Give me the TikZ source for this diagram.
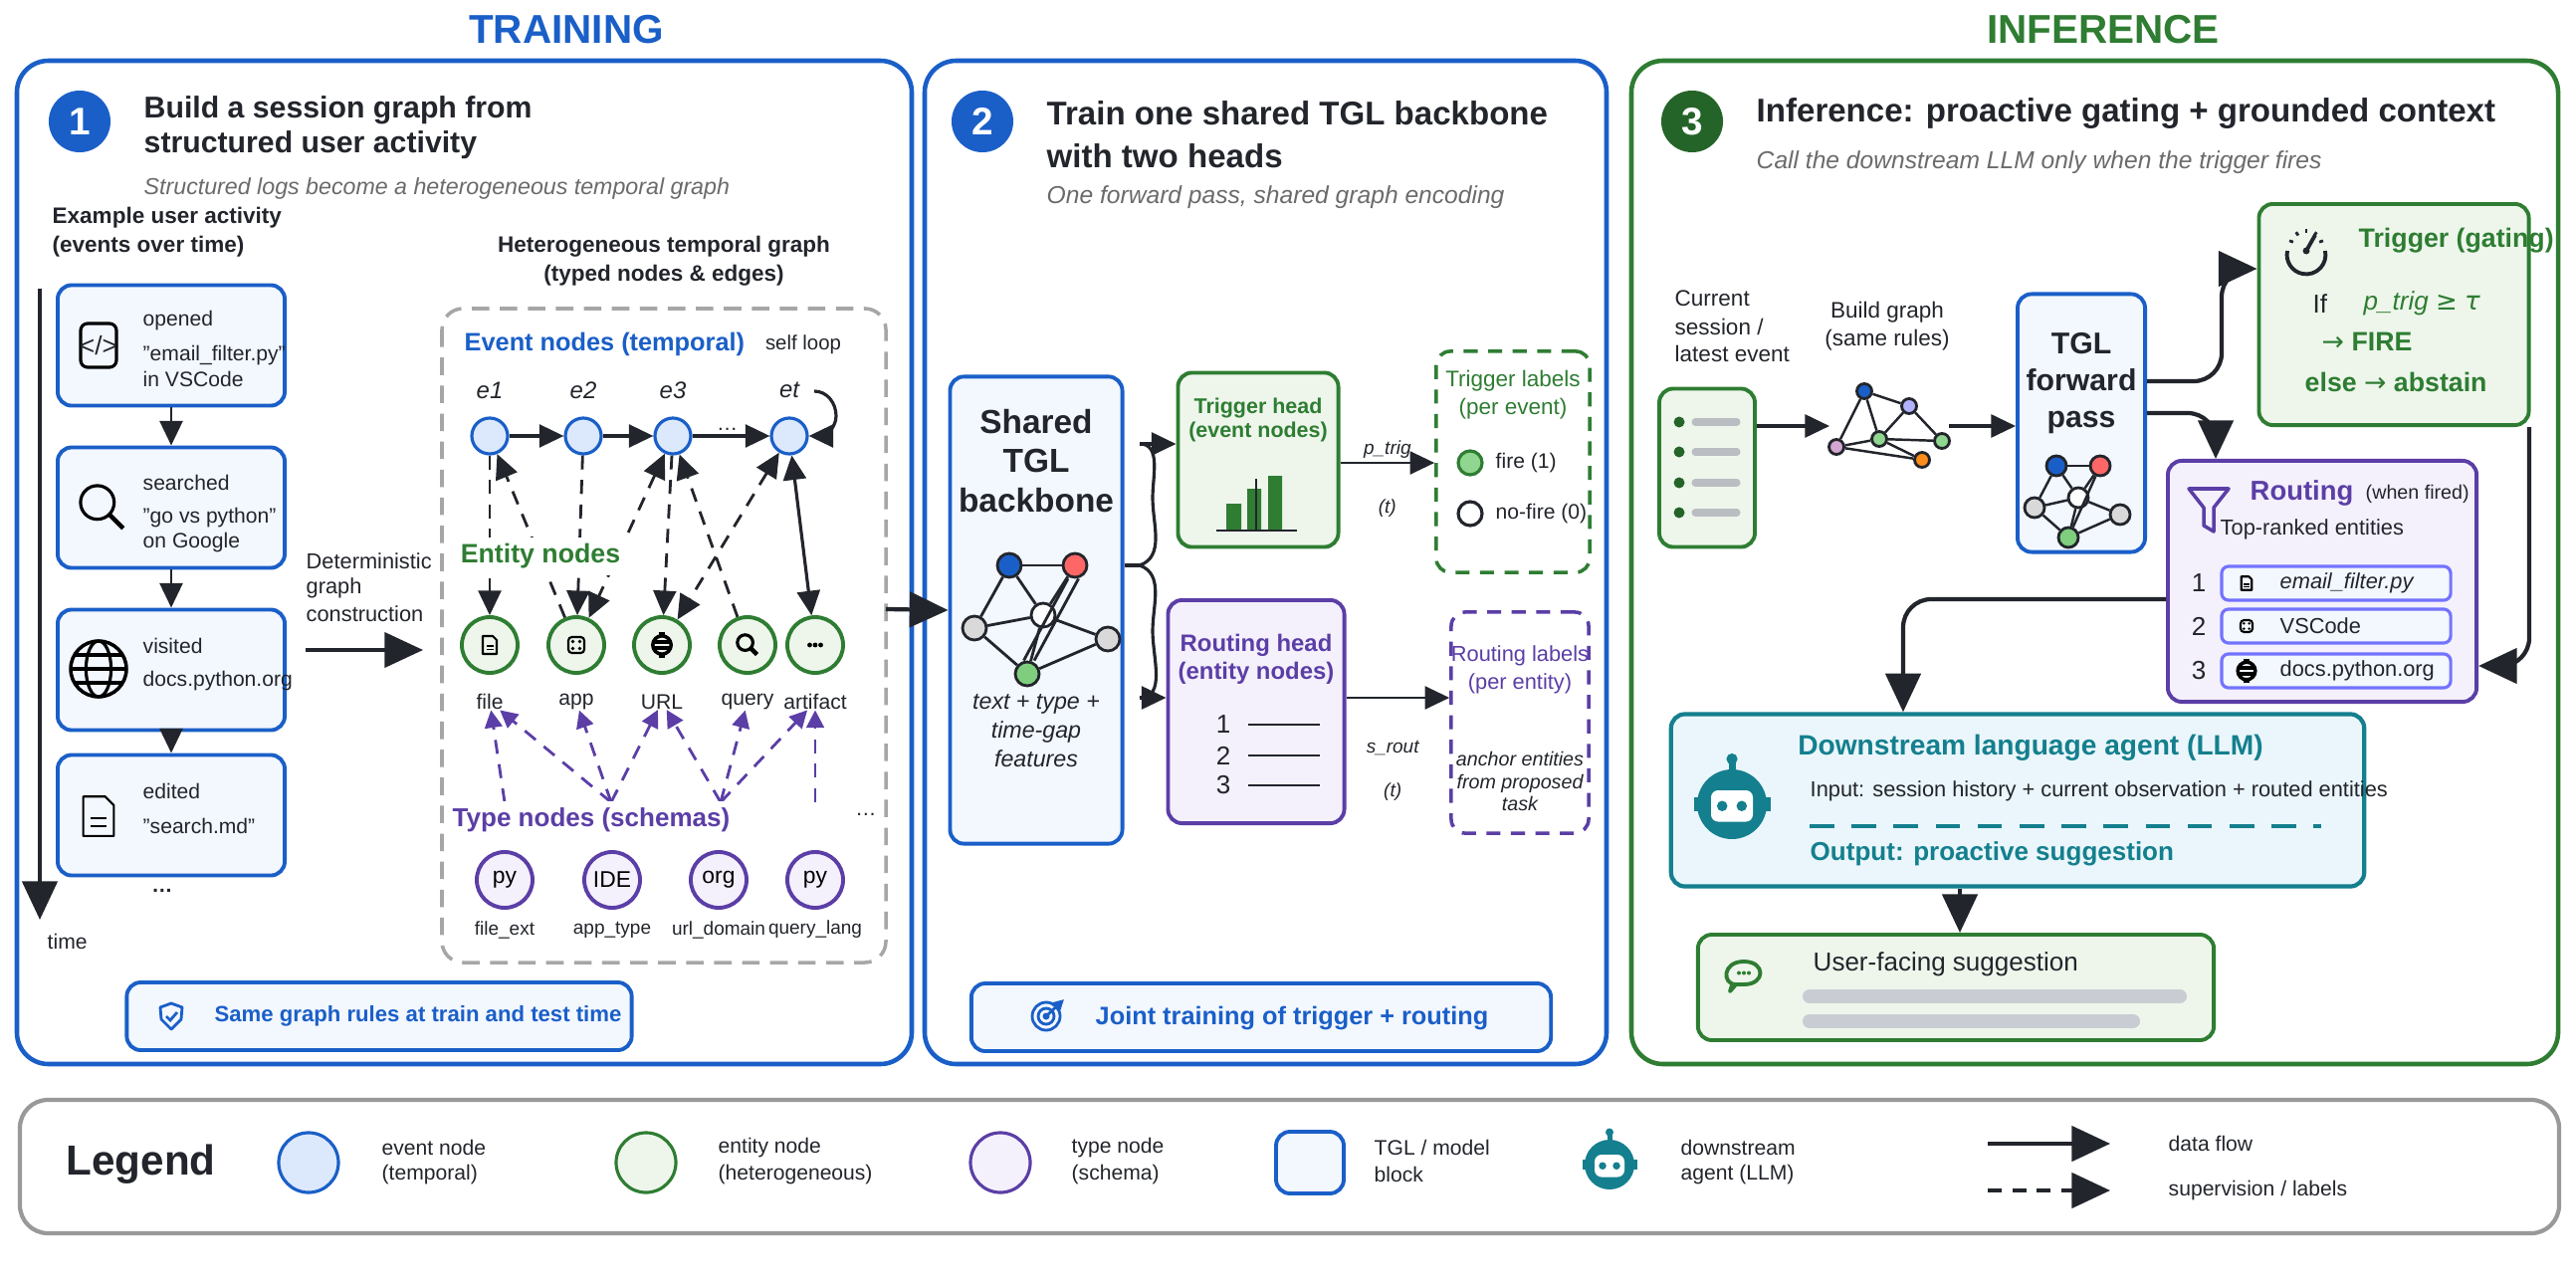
\documentclass[tikz,border=0pt]{standalone}
\usepackage{fontspec}
\setmainfont{Liberation Sans}
\newfontfamily\symf{DejaVu Sans}
\usetikzlibrary{arrows.meta, positioning, calc}

\definecolor{tblue}{HTML}{1A5FC8}
\definecolor{evfill}{HTML}{DCE8FB}
\definecolor{boxfill}{HTML}{F3F7FE}
\definecolor{egreen}{HTML}{2E7D32}
\definecolor{gfill}{HTML}{EEF6EC}
\definecolor{tpurple}{HTML}{5B3EA6}
\definecolor{pfill}{HTML}{F4F0FC}
\definecolor{teal}{HTML}{147F8E}
\definecolor{tealfill}{HTML}{EAF6FB}
\definecolor{ink}{HTML}{22252B}
\definecolor{subgrey}{HTML}{6B6B6B}
\definecolor{barg}{HTML}{C9CDD3}

\newcommand\fs[2]{\fontsize{#1}{#2}\selectfont}

\tikzset{
    headarrow/.style = {-{Triangle[length=7pt, width=6.5pt]}},
    bigarrow/.style  = {-{Triangle[length=11pt, width=10pt]}},
    flow/.style      = {headarrow, draw=ink, line width=0.9pt},
    sup/.style       = {headarrow, draw=ink, line width=0.8pt, dash pattern=on 4pt off 3pt},
    tsup/.style      = {-{Triangle[length=5pt, width=5pt]}, draw=tpurple, line width=0.8pt, dash pattern=on 4pt off 3pt},
    panel/.style     = {rounded corners=9pt, line width=1.3pt, fill=white},
    numc/.style      = {circle, minimum size=0.62cm, inner sep=0, text=white, font=\bfseries\fs{11}{11}},
    ttl/.style       = {anchor=west, inner sep=0, font=\bfseries\fs{8.6}{10}, text=ink},
    subt/.style      = {anchor=west, inner sep=0, font=\itshape\fs{6.6}{8}, text=subgrey},
    txt/.style       = {inner sep=0, font=\fs{6}{7.5}, text=ink},
    ltxt/.style      = {txt, anchor=west},
    evbox/.style     = {draw=tblue, fill=boxfill, line width=1.1pt, rounded corners=4pt,
                        minimum width=2.28cm, minimum height=1.21cm},
    evnode/.style    = {circle, draw=tblue, fill=evfill, line width=0.9pt, minimum size=0.36cm, inner sep=0},
    ennode/.style    = {circle, draw=egreen, fill=gfill, line width=1.1pt, minimum size=0.56cm, inner sep=0},
    tpnode/.style    = {circle, draw=tpurple, fill=pfill, line width=1.1pt, minimum size=0.56cm, inner sep=0,
                        font=\fs{6.5}{7}},
    gnode/.style     = {circle, draw=ink, line width=0.8pt, minimum size=#1, inner sep=0},
    gnode/.default   = 0.24cm,
    footbox/.style   = {draw=tblue, fill=boxfill, line width=1.1pt, rounded corners=4pt},
}

% small icons, drawn around (x,y) with a scale
\newcommand\icdoc[3]{\begin{scope}[shift={(#1,#2)}, scale=#3, line join=round]
    \draw[line width=0.6pt] (-7,-9) -- (3,-9) -- (7,-5) -- (7,9) -- (-7,9) -- cycle;
    \draw[line width=0.5pt] (-3.5,1) -- (3.5,1) (-3.5,4.5) -- (3.5,4.5);
\end{scope}}
\newcommand\icapp[3]{\begin{scope}[shift={(#1,#2)}, scale=#3]
    \draw[line width=0.6pt, rounded corners=1pt] (-8,-8) rectangle (8,8);
    \foreach \dx/\dy in {-3.5/-3.5, 3.5/-3.5, -3.5/3.5, 3.5/3.5}
        \fill (\dx,\dy) circle (1.8);
\end{scope}}
\newcommand\icurl[3]{\begin{scope}[shift={(#1,#2)}, scale=#3]
    \draw[line width=1pt] (0,0) circle (8);
    \draw[line width=1pt] (-8,-2.5) -- (8,-2.5) (-8,2.5) -- (8,2.5);
    \draw[line width=0.8pt] (-3,-10) -- (3,-10) (-3,10) -- (3,10);
\end{scope}}
\newcommand\icmag[3]{\begin{scope}[shift={(#1,#2)}, scale=#3]
    \draw[line width=0.9pt] (-2,-2) circle (6.5);
    \draw[line width=1.3pt] (2.8,2.8) -- (8,8);
\end{scope}}
\newcommand\icdots[3]{\begin{scope}[shift={(#1,#2)}, scale=#3]
    \foreach \dx in {-5,0,5} \fill (\dx,0) circle (2.2);
\end{scope}}
\newcommand\icglobe[3]{\begin{scope}[shift={(#1,#2)}, scale=#3]
    \draw[line width=1pt] (0,0) circle (10);
    \draw[line width=0.9pt] (0,0) ellipse (4.5 and 10);
    \draw[line width=0.9pt] (-10,0) -- (10,0) (-8.5,-5) -- (8.5,-5) (-8.5,5) -- (8.5,5);
\end{scope}}
\newcommand\icrobot[3]{\begin{scope}[shift={(#1,#2)}, scale=#3]
    \fill[teal] (0,0) circle (10);
    \fill[teal] (-11,-2) rectangle (11,2);
    \fill[teal] (-1,-13) rectangle (1,-9);
    \fill[teal] (0,-13) circle (1.6);
    \fill[white, rounded corners=2pt] (-6,-4) rectangle (6,5);
    \fill[teal] (-2.8,0.5) circle (1.5) (2.8,0.5) circle (1.5);
\end{scope}}

\begin{document}
\begin{tikzpicture}[x=0.01cm, y=-0.01cm]
    \useasboundingbox (0,0) rectangle (2588,1294);

    \node[font=\bfseries\fs{11.5}{12}, text=tblue] (trn) at (569,30) {TRAINING};
    \node[font=\bfseries\fs{11.5}{12}, text=egreen] (inf) at (2113,30) {INFERENCE};

    % ---------- panel 1
    \draw[panel, draw=tblue] (17,61) rectangle (916,1069);
    \node[numc, fill=tblue] (n1) at (80,122) {1};
    \node[ttl] (t1a) at (144,111) {Build a session graph from};
    \node[ttl] (t1b) at (144,146) {structured user activity};
    \node[subt] (s1) at (144,189) {Structured logs become a heterogeneous temporal graph};
    \node[ltxt, font=\bfseries\fs{6.4}{7.5}] (ex1) at (52,219) {Example user activity};
    \node[ltxt, font=\bfseries\fs{6.4}{7.5}] (ex2) at (52,248) {(events over time)};

    \coordinate (tA) at (40,290);
    \coordinate (tB) at (40,924);
    \draw[bigarrow, draw=ink, line width=1.2pt] (tA) -- (tB);
    \node[ltxt] (time) at (47,946) {time};

    \node[evbox] (b1) at (172,347) {};
    \node[evbox] (b2) at (172,510) {};
    \node[evbox] (b3) at (172,673) {};
    \node[evbox] (b4) at (172,819) {};
    \draw[flow, line width=0.8pt] (b1) -- (b2);
    \draw[flow, line width=0.8pt] (b2) -- (b3);
    \draw[flow, line width=0.8pt] (b3) -- (b4);
    \node[txt] (more) at (163,895) {\bfseries\dots};

    \draw[line width=0.9pt, rounded corners=2pt] (81,325) rectangle (117,369);
    \node[txt, font=\fs{7.5}{7.5}] (code) at (99,347) {</>};
    \node[ltxt] at (143,322) {opened};
    \node[ltxt] at (143,357) {"email\_filter.py"};
    \node[ltxt] at (143,381) {in VSCode};
    \icmag{103}{510}{2.6}
    \node[ltxt] at (143,485) {searched};
    \node[ltxt] at (143,520) {"go vs python"};
    \node[ltxt] at (143,545) {on Google};
    \icglobe{99}{672}{2.8}
    \node[ltxt] at (143,649) {visited};
    \node[ltxt] at (143,684) {docs.python.org};
    \icdoc{99}{820}{2.2}
    \node[ltxt] at (143,795) {edited};
    \node[ltxt] at (143,830) {"search.md"};

    \node[ltxt, font=\fs{6.2}{8}] (det1) at (307,564) {Deterministic};
    \node[ltxt, font=\fs{6.2}{8}] (det2) at (307,591) {graph};
    \node[ltxt, font=\fs{6.2}{8}] (det3) at (307,617) {construction};
    \coordinate (dA) at (307,653);
    \coordinate (dB) at (425,653);
    \draw[bigarrow, draw=ink, line width=1pt] (dA) -- (dB);

    \draw[draw=gray!70, line width=1pt, dash pattern=on 5pt off 3pt, rounded corners=6pt] (444,310) rectangle (890,967);
    \node[txt, font=\bfseries\fs{6.4}{7.5}] at (667,248) {Heterogeneous temporal graph};
    \node[txt, font=\bfseries\fs{6.4}{7.5}] at (667,277) {(typed nodes \& edges)};
    \node[ltxt, font=\bfseries\fs{7.2}{8}, text=tblue] at (466,346) {Event nodes (temporal)};
    \node[txt, font=\fs{5.8}{7}] at (807,346) {self loop};

    \foreach \n/\x in {1/492, 2/586, 3/676, t/793} {
        \node[evnode] (e\n) at (\x,438) {};
        \node[txt, font=\itshape\fs{6.8}{8}] at (\x,392) {e\n};
    }
    \draw[flow] (e1) -- (e2);
    \draw[flow] (e2) -- (e3);
    \draw[flow] (e3) -- node[pos=0.45, txt, yshift=2pt] {\dots} (et);
    \coordinate (slp) at (818,393);
    \draw[flow] (slp) to[out=0, in=90] (840,418) to[out=-90, in=0] (et.east);

    \foreach \n/\x/\lab in {file/492/file, app/579/app, url/665/URL, qry/751/query, art/819/artifact} {
        \node[ennode] (\n) at (\x,648) {};
        \node[txt, font=\fs{6}{7}] (\n L) at (\x,705) {\lab};
    }
    \icdoc{492}{648}{1.0}
    \icapp{579}{648}{1.0}
    \icurl{665}{648}{1.15}
    \icmag{751}{648}{1.2}
    \icdots{819}{648}{1.1}

    \draw[sup] (e1) -- (file);
    \draw[sup] (app) -- (e1);
    \draw[sup] (e2) -- (app);
    \draw[sup, {Triangle[length=7pt, width=6.5pt]}-{Triangle[length=7pt, width=6.5pt]}] (e3) -- (app);
    \draw[sup] (e3) -- (url);
    \draw[sup] (qry) -- (e3);
    \draw[sup, {Triangle[length=7pt, width=6.5pt]}-{Triangle[length=7pt, width=6.5pt]}] (et) -- (url);
    \draw[flow, {Triangle[length=7pt, width=6.5pt]}-{Triangle[length=7pt, width=6.5pt]}] (et) -- (art);
    \node[txt, fill=white, inner sep=2pt, font=\bfseries\fs{7.6}{8}, text=egreen] (entl) at (543,559) {Entity nodes};

    \coordinate (tp1) at (507,806);
    \coordinate (tp2) at (614,806);
    \coordinate (tp3) at (724,806);
    \coordinate (tp4) at (819,806);
    \draw[tsup] (tp1) -- (fileL);
    \draw[tsup] (tp2) -- (fileL);
    \draw[tsup] (tp2) -- (appL);
    \draw[tsup] (tp2) -- (urlL);
    \draw[tsup] (tp3) -- (urlL);
    \draw[tsup] (tp3) -- (qryL);
    \draw[tsup] (tp3) -- (artL);
    \draw[tsup] (tp4) -- (artL);
    \node[txt, fill=white, inner sep=2pt, font=\bfseries\fs{7.4}{8}, text=tpurple] (tpl) at (594,824) {Type nodes (schemas)};

    \foreach \n/\x/\lab/\sch in {a/507/py/file\_ext, b/615/IDE/app\_type, c/722/org/url\_domain, d/819/py/query\_lang} {
        \node[tpnode] (ty\n) at (\x,884) {\lab};
        \node[txt, font=\fs{5.4}{7}] at (\x,934) {\sch};
    }
    \node[txt] at (870,818) {\dots};

    \node[footbox, minimum width=5.07cm, minimum height=0.68cm] (f1) at (381,1021) {};
    \begin{scope}[shift={(172,1021)}]
        \draw[tblue, line width=0.8pt, line join=round] (0,-13) -- (11,-9) -- (10,3) -- (0,13) -- (-10,3) -- (-11,-9) -- cycle;
        \draw[tblue, line width=0.8pt] (-5,0) -- (-1,4) -- (6,-4);
    \end{scope}
    \node[txt, font=\bfseries\fs{6.3}{8}, text=tblue] at (420,1021) {Same graph rules at train and test time};

    % ---------- panel 2
    \draw[panel, draw=tblue] (929,61) rectangle (1614,1069);
    \node[numc, fill=tblue] (n2) at (987,122) {2};
    \node[ttl, font=\bfseries\fs{9.4}{10}] at (1051,114) {Train one shared TGL backbone};
    \node[ttl, font=\bfseries\fs{9.4}{10}] at (1051,157) {with two heads};
    \node[subt, font=\itshape\fs{7}{8}] at (1051,198) {One forward pass, shared graph encoding};

    \node[evbox, minimum width=1.73cm, minimum height=4.69cm] (bb) at (1041,613) {};
    \node[txt, align=center, font=\bfseries\fs{9.5}{11.3}] at (1041,463) {Shared\\TGL\\backbone};
    \draw[bigarrow, draw=ink, line width=1.2pt] (890,612) -- (bb.west);

    \node[gnode, fill=tblue] (g1) at (1014,568) {};
    \node[gnode, fill=red!60] (g2) at (1080,568) {};
    \node[gnode, fill=white] (g3) at (1048,618) {};
    \node[gnode, fill=gray!30] (g4) at (979,631) {};
    \node[gnode, fill=gray!30] (g5) at (1113,642) {};
    \node[gnode, fill=green!45!gray!70] (g6) at (1032,677) {};
    \foreach \a/\b in {g1/g2, g1/g3, g1/g4, g2/g3, g3/g4, g4/g6, g3/g6, g3/g5, g5/g6}
        \draw[ink, line width=0.8pt] (\a) -- (\b);
    \draw[ink, line width=0.8pt] ([xshift=-2pt]g2.south) -- ([xshift=-1pt]g6.north);
    \draw[ink, line width=0.8pt] ([xshift=1pt]g2.south) -- ([xshift=2pt]g6.north);
    \node[txt, align=center, font=\itshape\fs{6.6}{8.2}] at (1041,734) {text + type +\\time-gap\\features};

    \node[draw=egreen, fill=gfill, line width=1.1pt, rounded corners=4pt, minimum width=1.61cm, minimum height=1.75cm] (trh) at (1264,462) {};
    \node[txt, align=center, font=\bfseries\fs{6.1}{7}, text=egreen] at (1264,422) {Trigger head\\(event nodes)};
    \fill[egreen] (1232,506) rectangle (1247,533) (1253,491) rectangle (1267,533) (1274,478) rectangle (1288,533);
    \draw[ink, line width=0.8pt] (1222,533) -- (1303,533) (1262,481) -- (1262,533);

    \node[draw=tpurple, fill=pfill, line width=1.1pt, rounded corners=4pt, minimum width=1.77cm, minimum height=2.24cm] (rth) at (1262,715) {};
    \node[txt, align=center, font=\bfseries\fs{6.8}{8}, text=tpurple] at (1262,662) {Routing head\\(entity nodes)};
    \foreach \i/\y in {1/728, 2/759, 3/789} {
        \node[txt, font=\fs{7.4}{8}] at (1229,\y) {\i};
        \draw[ink, line width=0.8pt] (1254,\y) -- (1326,\y);
    }

    \coordinate (brc) at (1145,568);
    \coordinate (brt) at (1145,446);
    \coordinate (brb) at (1145,701);
    \draw[ink, line width=0.9pt] (bb.east |- brc) -- (brc);
    \draw[ink, line width=0.9pt] (brt) to[out=0, in=90] (1158,500) to[out=-90, in=20] (brc)
        to[out=-20, in=90] (1158,634) to[out=-90, in=0] (brb);
    \draw[flow] (brt) -- (trh.west |- brt);
    \draw[flow] (brb) -- (rth.west |- brb);

    \node[draw=egreen, line width=1pt, dash pattern=on 4pt off 3pt, rounded corners=4pt, minimum width=1.54cm, minimum height=2.22cm] (tlab) at (1520,464) {};
    \node[txt, align=center, font=\fs{6.4}{8}, text=egreen] at (1520,397) {Trigger labels\\(per event)};
    \node[circle, draw=egreen, fill=green!45!gray!60, line width=0.9pt, minimum size=0.24cm, inner sep=0] (fire) at (1477,465) {};
    \node[ltxt] at (1502,465) {fire (1)};
    \node[circle, draw=ink, fill=white, line width=0.9pt, minimum size=0.24cm, inner sep=0] (nofire) at (1477,516) {};
    \node[ltxt] at (1502,516) {no-fire (0)};
    \draw[flow, line width=0.8pt] (trh.east |- fire) -- node[pos=0.5, above=1pt, txt, font=\itshape\fs{5.4}{6}] {p\_trig}
        node[pos=0.5, below=10pt, txt, font=\itshape\fs{5.4}{6}] {(t)} (tlab.west |- fire);

    \node[draw=tpurple, line width=1pt, dash pattern=on 4pt off 3pt, rounded corners=4pt, minimum width=1.38cm, minimum height=2.22cm] (rlab) at (1527,726) {};
    \node[txt, align=center, font=\fs{6.2}{8}, text=tpurple] at (1527,673) {Routing labels\\(per entity)};
    \node[txt, align=center, font=\itshape\fs{5.6}{6.4}] at (1527,785) {anchor entities\\from proposed\\task};
    \draw[flow, line width=0.8pt] (rth.east |- brb) -- node[pos=0.45, below=12pt, txt, font=\itshape\fs{5.4}{6}] {s\_rout}
        node[pos=0.45, below=24pt, txt, font=\itshape\fs{5.4}{6}] {(t)} (rlab.west |- brb);

    \node[footbox, minimum width=5.82cm, minimum height=0.68cm] (f2) at (1267,1022) {};
    \begin{scope}[shift={(1051,1021)}]
        \draw[tblue, line width=0.8pt] (0,0) circle (14) (0,0) circle (8);
        \fill[tblue] (0,0) circle (3.5);
        \draw[tblue, line width=0.8pt, -{Triangle[length=3pt, width=3pt]}] (0,0) -- (18,-17);
    \end{scope}
    \node[txt, font=\bfseries\fs{7.2}{8}, text=tblue] at (1298,1023) {Joint training of trigger + routing};

    % ---------- panel 3
    \draw[panel, draw=egreen] (1639,61) rectangle (2570,1069);
    \node[numc, fill=egreen!80!black] (n3) at (1700,122) {3};
    \node[ttl, font=\bfseries\fs{9.4}{10}] at (1764,114) {Inference: proactive gating + grounded context};
    \node[subt, font=\itshape\fs{7}{8}] at (1764,163) {Call the downstream LLM only when the trigger fires};

    \node[ltxt, font=\fs{6.4}{7}] at (1682,300) {Current};
    \node[ltxt, font=\fs{6.4}{7}] at (1682,328) {session /};
    \node[ltxt, font=\fs{6.4}{7}] at (1682,355) {latest event};
    \node[draw=egreen, fill=gfill, line width=1.1pt, rounded corners=4pt, minimum width=0.96cm, minimum height=1.59cm] (lst) at (1715,470) {};
    \foreach \y in {424, 454, 485, 515} {
        \fill[egreen!80!black] (1687,\y) circle (5.5);
        \draw[barg!80!gray, line width=2pt, line cap=round] (1703,\y) -- (1745,\y);
    }
    \node[txt, align=center, font=\fs{6.4}{8}] at (1896,328) {Build graph\\(same rules)};
    \node[gnode=0.15cm, fill=tblue] (s1) at (1873,393) {};
    \node[gnode=0.15cm, fill=blue!30] (s2) at (1918,408) {};
    \node[gnode=0.15cm, fill=violet!35] (s3) at (1845,449) {};
    \node[gnode=0.15cm, fill=green!45!gray!60] (s4) at (1888,441) {};
    \node[gnode=0.15cm, fill=green!45!gray!60] (s5) at (1951,443) {};
    \node[gnode=0.15cm, fill=orange!90] (s6) at (1931,462) {};
    \foreach \a/\b in {s1/s2, s1/s3, s1/s4, s2/s4, s2/s5, s3/s4, s3/s6, s4/s5, s4/s6}
        \draw[ink, line width=0.7pt] (\a) -- (\b);
    \coordinate (sgA) at (1838,428);
    \coordinate (sgB) at (1958,428);
    \draw[flow] (lst.east |- sgA) -- (sgA);

    \node[evbox, minimum width=1.28cm, minimum height=2.59cm] (tgl) at (2091,425) {};
    \node[txt, align=center, font=\bfseries\fs{8.6}{10.5}] at (2091,385) {TGL\\forward\\pass};
    \draw[flow] (sgB) -- (tgl.west |- sgB);
    \node[gnode=0.2cm, fill=tblue] (h1) at (2066,468) {};
    \node[gnode=0.2cm, fill=red!60] (h2) at (2110,468) {};
    \node[gnode=0.2cm, fill=white] (h3) at (2088,500) {};
    \node[gnode=0.2cm, fill=gray!30] (h4) at (2044,510) {};
    \node[gnode=0.2cm, fill=gray!30] (h5) at (2130,517) {};
    \node[gnode=0.2cm, fill=green!45!gray!70] (h6) at (2078,540) {};
    \foreach \a/\b in {h1/h2, h1/h3, h1/h4, h2/h3, h2/h6, h3/h4, h4/h6, h3/h6, h3/h5, h5/h6}
        \draw[ink, line width=0.7pt] (\a) -- (\b);

    \node[draw=egreen, fill=gfill, line width=1.1pt, rounded corners=4pt, minimum width=2.71cm, minimum height=2.22cm] (trg) at (2405,316) {};
    \begin{scope}[shift={(2317,248)}]
        \draw[ink, line width=1.1pt] (-19,4) arc (192:-12:19.4);
        \foreach \a in {160,125,90,55,20} \draw[ink, line width=0.8pt] (\a:-14) -- (\a:-18);
        \fill[ink] (0,4) circle (3.5);
        \draw[ink, line width=1.1pt] (0,4) -- (9,-12);
    \end{scope}
    \node[ltxt, font=\bfseries\fs{7.6}{8}, text=egreen] at (2369,242) {Trigger (gating)};
    \node[ltxt, font=\fs{7.4}{8}] at (2323,305) {If};
    \node[ltxt, font=\itshape\fs{7.4}{8}, text=egreen] at (2374,305) {p\_trig {\symf\upshape ≥} {\symf τ}};
    \node[ltxt, font=\bfseries\fs{7.6}{8}, text=egreen] at (2332,343) {{\symf\mdseries →} FIRE};
    \node[ltxt, font=\bfseries\fs{7.6}{8}, text=egreen] at (2315,384) {else {\symf\mdseries →} abstain};
    \coordinate (tgA) at (2232,383);
    \draw[bigarrow, draw=ink, line width=1.2pt, rounded corners=8pt] (tgl.east |- tgA) -- (tgA) -- (2232,270) -- (trg.west |- 0,270);

    \node[draw=tpurple, fill=pfill, line width=1.1pt, rounded corners=4pt, minimum width=3.1cm, minimum height=2.42cm] (rtg) at (2333,584) {};
    \coordinate (rtA) at (2226,415);
    \draw[bigarrow, draw=ink, line width=1.2pt, rounded corners=8pt] (tgl.east |- rtA) -- (rtA) -- (rtg.north -| rtA);
    \draw[tpurple, line width=1pt, line join=round] (2199,491) -- (2239,491) -- (2224,510) -- (2224,534) -- (2214,528) -- (2214,510) -- cycle;
    \node[ltxt, font=\bfseries\fs{7.8}{9}, text=tpurple] at (2260,495) {Routing};
    \node[ltxt, font=\fs{5.6}{7}] at (2376,496) {(when fired)};
    \node[ltxt, font=\fs{6.2}{7}] at (2230,532) {Top-ranked entities};
    \foreach \i/\y/\lab in {1/586/{\itshape email\_filter.py}, 2/629/VSCode, 3/674/docs.python.org} {
        \node[txt, font=\fs{7.4}{8}] at (2209,\y) {\i};
        \node[draw=blue!55, fill=boxfill, line width=0.9pt, rounded corners=2pt, minimum width=2.3cm, minimum height=0.34cm] (it\i) at (2347,\y) {};
        \node[ltxt, font=\fs{6.2}{7}] at (2290,\y) {\lab};
    }
    \icdoc{2257}{586}{0.75}
    \icapp{2257}{629}{0.75}
    \icurl{2257}{674}{1.1}
    \coordinate (trC) at (2541,669);
    \draw[bigarrow, draw=ink, line width=1.2pt, rounded corners=8pt] (trg.south east -| trC) -- (trC) -- (rtg.east |- trC);

    \node[draw=teal, fill=tealfill, line width=1.2pt, rounded corners=4pt, minimum width=6.96cm, minimum height=1.73cm] (llm) at (2027,804) {};
    \coordinate (rlA) at (1912,602);
    \draw[bigarrow, draw=ink, line width=1.2pt, rounded corners=8pt] (rtg.west |- rlA) -- (rlA) -- (llm.north -| rlA);
    \icrobot{1740}{808}{3.5}
    \node[txt, font=\bfseries\fs{8}{9}, text=teal] at (2040,751) {Downstream language agent (LLM)};
    \node[ltxt, font=\fs{6.2}{7}] at (1818,795) {Input: session history + current observation + routed entities};
    \draw[teal, line width=1.1pt, dash pattern=on 7pt off 5pt] (1818,830) -- (2332,830);
    \node[ltxt, font=\bfseries\fs{7.4}{8}, text=teal] at (1818,858) {Output: proactive suggestion};

    \node[draw=egreen, fill=gfill, line width=1.1pt, rounded corners=4pt, minimum width=5.18cm, minimum height=1.06cm] (usr) at (1965,992) {};
    \draw[bigarrow, draw=ink, line width=1.2pt] (llm.south -| 1969,0) -- (usr.north -| 1969,0);
    \begin{scope}[shift={(1752,979)}]
        \draw[egreen, line width=1.1pt, line join=round] (-8,10) .. controls (-22,10) and (-22,-13) .. (0,-13)
            .. controls (22,-13) and (22,10) .. (0,10) -- (-8,10) -- (-14,17) -- (-11,8);
        \foreach \dx in {-5,0,5} \fill[egreen] (\dx,-1.5) circle (2);
    \end{scope}
    \node[ltxt, font=\fs{7.4}{8}] at (1821,969) {User-facing suggestion};
    \draw[barg, line width=4pt, line cap=round] (1818,1001) -- (2190,1001);
    \draw[barg, line width=4pt, line cap=round] (1818,1026) -- (2143,1026);

    % ---------- legend
    \draw[draw=gray!80, line width=1.2pt, rounded corners=8pt, fill=white] (20,1105) rectangle (2571,1239);
    \node[ltxt, font=\bfseries\fs{12}{13}] at (66,1170) {Legend};
    \node[evnode, minimum size=0.6cm] (lg1) at (310,1168) {};
    \node[ennode, line width=0.9pt, minimum size=0.6cm] (lg2) at (649,1168) {};
    \node[tpnode, line width=0.9pt, minimum size=0.6cm] (lg3) at (1005,1168) {};
    \node[evbox, minimum width=0.68cm, minimum height=0.62cm] (lg4) at (1316,1168) {};
    \icrobot{1617}{1170}{2.5}
    \foreach \x/\a/\b in {383/{event node}/{(temporal)}, 721/{entity node}/{(heterogeneous)}, 1076/{type node}/{(schema)}, 1380/{TGL / model}/{block}, 1688/{downstream}/{agent (LLM)}} {
        \node[ltxt, font=\fs{6}{7}] at (\x,1153) {\a};
        \node[ltxt, font=\fs{6}{7}] at (\x,1180) {\b};
    }
    \coordinate (lfA) at (1997,1149);
    \coordinate (lfB) at (2120,1149);
    \coordinate (lsA) at (1997,1196);
    \coordinate (lsB) at (2120,1196);
    \draw[bigarrow, draw=ink, line width=1.2pt] (lfA) -- (lfB);
    \draw[bigarrow, draw=ink, line width=1.2pt, dash pattern=on 4pt off 3pt] (lsA) -- (lsB);
    \node[ltxt, font=\fs{6}{7}] at (2178,1149) {data flow};
    \node[ltxt, font=\fs{6}{7}] at (2178,1196) {supervision / labels};
\end{tikzpicture}
\end{document}
